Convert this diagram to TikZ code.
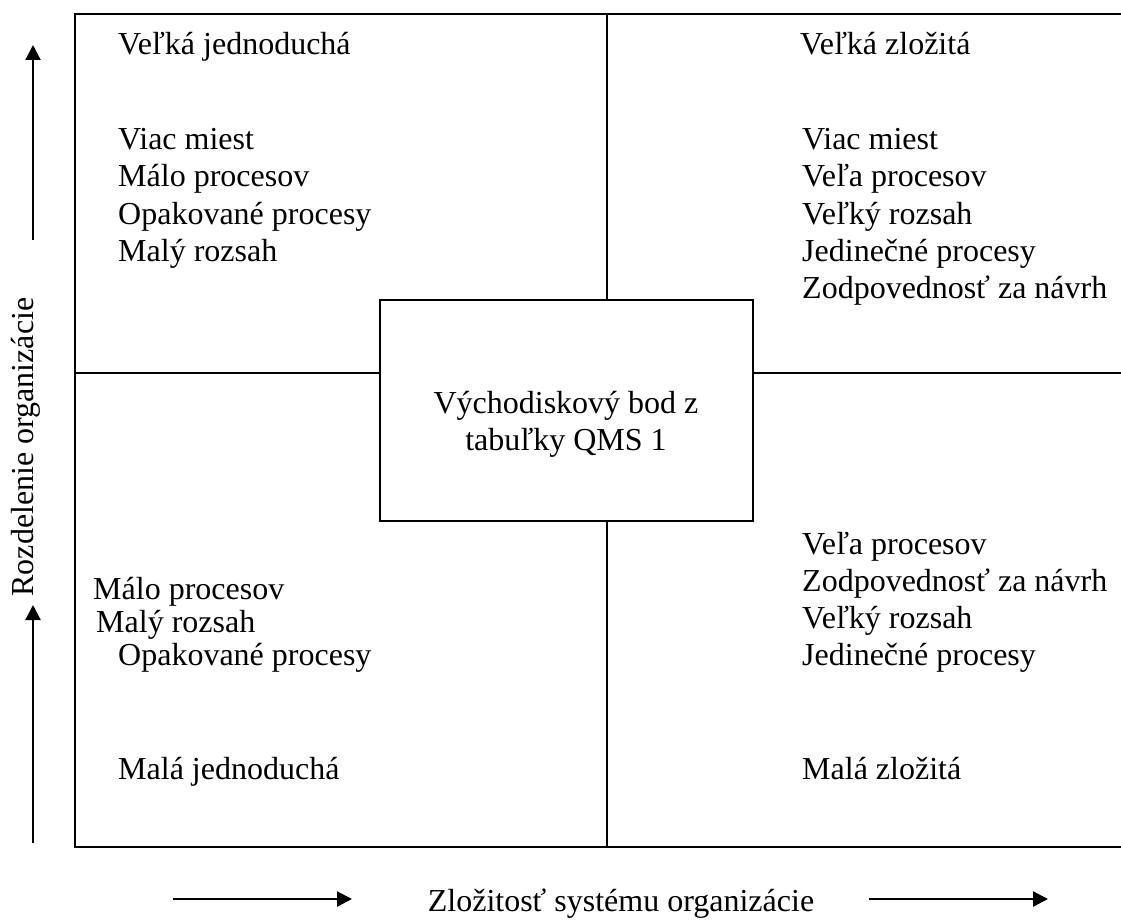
\documentclass[tikz,border=0pt]{standalone}
\usepackage{fontspec}
\setmainfont{Liberation Serif}
\usetikzlibrary{arrows.meta}
\begin{document}
\begin{tikzpicture}[x=1pt,y=-1pt,
  txt/.style={inner sep=0pt,font=\fontsize{32}{37}\selectfont},
  lbl/.style={txt,anchor=base west},
  frame/.style={line width=2pt},
  divider/.style={line width=1.6pt},
  axis/.style={line width=2.2pt,-{Triangle[length=15pt,width=15pt]}}]
\useasboundingbox (0,0) rectangle (1121,920);
% frame and quadrant dividers
\draw[frame] (1121,14) -- (75,14) -- (75,847) -- (1121,847);
\draw[divider] (607,14) -- (607,847);
\draw[divider] (75,373) -- (1121,373);
% centre box
\node (centre) [draw,frame,fill=white,minimum width=373pt,minimum height=221pt,inner sep=0pt,anchor=north west] at (379,299) {};
\node (c1) [txt,anchor=base] at (566,413) {Východiskový bod z};
\node (c2) [txt,anchor=base] at (566,450) {tabuľky QMS 1};
% top left
\node (tl0) [lbl] at (118,55) {Veľká jednoduchá};
\node (tl1) [lbl] at (118,150) {Viac miest};
\node (tl2) [lbl] at (118,187) {Málo procesov};
\node (tl3) [lbl] at (118,224) {Opakované procesy};
\node (tl4) [lbl] at (118,261) {Malý rozsah};
% top right
\node (tr0) [lbl] at (800,55) {Veľká zložitá};
\node (tr1) [lbl] at (802,150) {Viac miest};
\node (tr2) [lbl] at (802,187) {Veľa procesov};
\node (tr3) [lbl] at (802,224) {Veľký rozsah};
\node (tr4) [lbl] at (802,261) {Jedinečné procesy};
\node (tr5) [lbl] at (802,298) {Zodpovednosť za návrh};
% bottom left
\node (bl1) [lbl] at (93,599) {Málo procesov};
\node (bl2) [lbl] at (96,632) {Malý rozsah};
\node (bl3) [lbl] at (118,665) {Opakované procesy};
\node (bl0) [lbl] at (118,779) {Malá jednoduchá};
% bottom right
\node (br1) [lbl] at (802,554) {Veľa procesov};
\node (br2) [lbl] at (802,591) {Zodpovednosť za návrh};
\node (br3) [lbl] at (802,628) {Veľký rozsah};
\node (br4) [lbl] at (802,665) {Jedinečné procesy};
\node (br0) [lbl] at (802,779) {Malá zložitá};
% axis labels
\node (ylab) [txt,anchor=base,rotate=90] at (33,447) {Rozdelenie organizácie};
\node (xlab) [txt,anchor=base] at (621,911) {Zložitosť systému organizácie};
% axis arrows
\coordinate (ua0) at (33,240); \coordinate (ua1) at (33,45);
\coordinate (la0) at (33,843); \coordinate (la1) at (33,605);
\coordinate (xa0) at (173,899); \coordinate (xa1) at (352,899);
\coordinate (xb0) at (869,899); \coordinate (xb1) at (1048,899);
\draw[axis] (ua0) -- (ua1);
\draw[axis] (la0) -- (la1);
\draw[axis] (xa0) -- (xa1);
\draw[axis] (xb0) -- (xb1);
\end{tikzpicture}
\end{document}
